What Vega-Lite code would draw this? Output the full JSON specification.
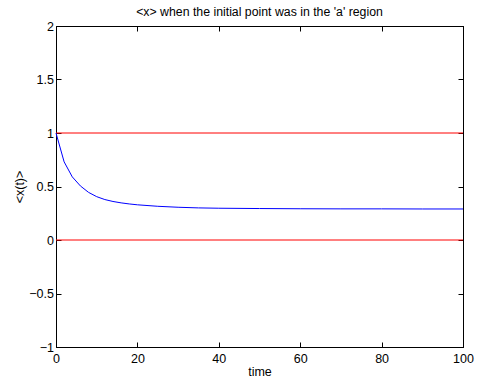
{
  "$schema": "https://vega.github.io/schema/vega-lite/v6.json",
  "width": 407,
  "height": 321,
  "autosize": {"type": "none"},
  "padding": {"left": 56, "top": 26, "right": 19, "bottom": 34},
  "background": "white",
  "title": {
    "text": "<x> when the initial point was in the 'a' region",
    "font": "Liberation Sans",
    "fontSize": 12.3,
    "fontWeight": "normal",
    "color": "black",
    "offset": 2,
    "anchor": "middle"
  },
  "config": {
    "view": {"stroke": "black", "strokeWidth": 1},
    "axis": {
      "grid": false,
      "domainColor": "black",
      "tickColor": "black",
      "labelColor": "black",
      "titleColor": "black",
      "labelFont": "Liberation Sans",
      "titleFont": "Liberation Sans",
      "labelFontSize": 12.5,
      "titleFontSize": 12.5,
      "titleFontWeight": "normal",
      "tickSize": -5,
      "labelFlush": false,
      "labelOverlap": false
    }
  },
  "datasets": {
    "curve": [
      {"t": 0, "v": 1.0},
      {"t": 2, "v": 0.73},
      {"t": 4, "v": 0.59},
      {"t": 6, "v": 0.505},
      {"t": 8, "v": 0.445},
      {"t": 10, "v": 0.405},
      {"t": 12, "v": 0.378},
      {"t": 14, "v": 0.36},
      {"t": 16, "v": 0.347},
      {"t": 18, "v": 0.337},
      {"t": 20, "v": 0.329},
      {"t": 25, "v": 0.315},
      {"t": 30, "v": 0.306},
      {"t": 35, "v": 0.300},
      {"t": 40, "v": 0.297},
      {"t": 50, "v": 0.294},
      {"t": 60, "v": 0.292},
      {"t": 70, "v": 0.291},
      {"t": 80, "v": 0.291},
      {"t": 90, "v": 0.29},
      {"t": 100, "v": 0.29}
    ],
    "bounds": [
      {"v": 0},
      {"v": 1}
    ]
  },
  "layer": [
    {
      "data": {"name": "bounds"},
      "mark": {"type": "rule", "color": "#ff0000", "strokeWidth": 1},
      "encoding": {
        "y": {"field": "v", "type": "quantitative", "scale": {"domain": [-1, 2], "nice": false}, "axis": null}
      }
    },
    {
      "data": {"name": "curve"},
      "mark": {"type": "line", "color": "#0000ff", "strokeWidth": 1},
      "encoding": {
        "x": {"field": "t", "type": "quantitative", "scale": {"domain": [0, 100], "nice": false},
              "axis": {"orient": "bottom", "title": "time", "values": [0, 20, 40, 60, 80, 100], "labelPadding": 10, "titlePadding": 1}},
        "y": {"field": "v", "type": "quantitative", "scale": {"domain": [-1, 2], "nice": false},
              "axis": {"orient": "left", "title": "<x(t)>", "values": [-1, -0.5, 0, 0.5, 1, 1.5, 2], "format": "~f", "labelPadding": 7.5, "titlePadding": 2}}
      }
    },
    {
      "data": {"name": "curve"},
      "mark": {"type": "line", "opacity": 0},
      "encoding": {
        "x": {"field": "t", "type": "quantitative", "scale": {"domain": [0, 100], "nice": false},
              "axis": {"orient": "top", "title": null, "labels": false, "values": [0, 20, 40, 60, 80, 100]}},
        "y": {"field": "v", "type": "quantitative", "scale": {"domain": [-1, 2], "nice": false},
              "axis": {"orient": "right", "title": null, "labels": false, "values": [-1, -0.5, 0, 0.5, 1, 1.5, 2]}}
      }
    }
  ],
  "resolve": {"axis": {"x": "independent", "y": "independent"}}
}
